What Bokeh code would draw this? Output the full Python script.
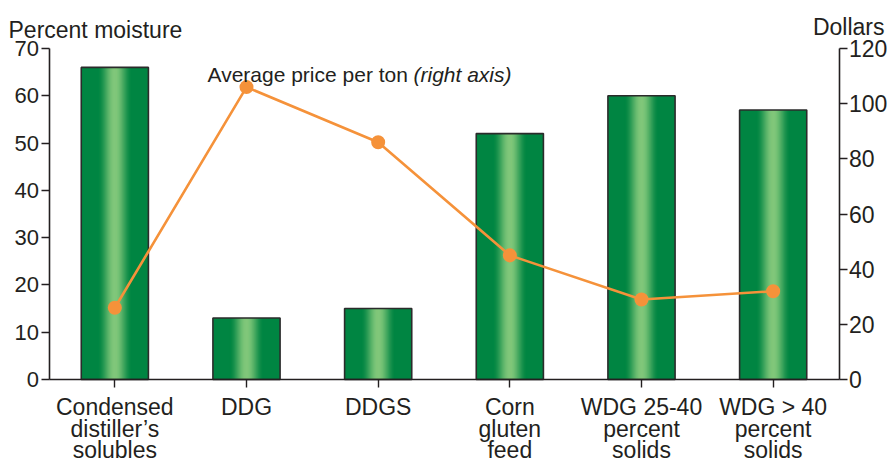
from bokeh.plotting import figure
from bokeh.core.properties import value
from bokeh.models import (Range1d, FactorRange, LinearAxis, FixedTicker, Label,
                          LabelSet, ColumnDataSource)
from bokeh.embed import file_html
from bokeh.resources import INLINE

# ---- data ----
categories = ["Condensed\ndistiller\u2019s\nsolubles", "DDG", "DDGS",
              "Corn\ngluten\nfeed", "WDG 25-40\npercent\nsolids",
              "WDG > 40\npercent\nsolids"]
moisture = [66, 13, 15, 52, 60, 57]        # percent moisture (left axis)
price = [26, 106, 86, 45, 29, 32]          # dollars per ton (right axis)
moisture_ticks = [0, 10, 20, 30, 40, 50, 60, 70]
price_ticks = [0, 20, 40, 60, 80, 100, 120]

# ---- layout (pixels) ----
W, H = 887, 463
X_LEFT, X_RIGHT = 47, 837      # plotting area left/right edges
Y_TOP, Y_ZERO = 48, 379        # plotting area top/bottom edges
N_CAT = len(categories)
UNIT = (X_RIGHT - X_LEFT) / N_CAT
PAD = (W / UNIT - N_CAT) / 2
M_MAX, P_MAX = 70, 120
m_px = (Y_ZERO - Y_TOP) / M_MAX
p_px = (Y_ZERO - Y_TOP) / P_MAX
LABEL_BASELINES = [414, 436, 457]


def px2x(px):
    return N_CAT / 2 + (px - W / 2) / UNIT


def py2y(py):
    return (Y_ZERO - py) / m_px


# ---- styles ----
FONT = "Liberation Sans"
DARK = "#231F20"
ORANGE = "#F5923A"
GREEN_DARK = (0, 133, 66)
GREEN_LIGHT = (128, 199, 122)
BAR_W = 0.51

src = ColumnDataSource(dict(cat=categories, moisture=moisture, price=price))

p = figure(width=W, height=H,
           x_range=FactorRange(factors=categories, range_padding=PAD,
                               range_padding_units="absolute"),
           y_range=Range1d(-(H - Y_ZERO) / m_px, M_MAX + Y_TOP / m_px),
           output_backend="svg", toolbar_location=None,
           min_border_left=0, min_border_right=0,
           min_border_top=0, min_border_bottom=0)
p.extra_y_ranges = {"price": Range1d(-(H - Y_ZERO) / p_px, P_MAX + Y_TOP / p_px)}
p.title.visible = False
p.outline_line_color = None
p.xgrid.visible = False
p.ygrid.visible = False
p.background_fill_color = "white"
p.border_fill_color = "white"


def style_axis(ax, size="22px"):
    ax.axis_line_color = DARK
    ax.axis_line_width = 1.6
    ax.major_tick_line_color = DARK
    ax.major_tick_line_width = 1.4
    ax.major_tick_in = 0
    ax.major_tick_out = 8
    ax.minor_tick_line_color = None
    ax.major_label_text_font = FONT
    ax.major_label_text_font_size = size
    ax.major_label_text_color = DARK


# left axis
yax = p.yaxis[0]
yax.ticker = FixedTicker(ticks=moisture_ticks)
yax.fixed_location = 0
yax.bounds = (0, M_MAX)
style_axis(yax)
yax.major_label_standoff = 2

# right axis
rax = LinearAxis(y_range_name="price", ticker=FixedTicker(ticks=price_ticks),
                 fixed_location=N_CAT, bounds=(0, P_MAX))
style_axis(rax, "23px")
rax.major_label_standoff = 2
p.add_layout(rax, "right")

# bottom axis (category names drawn line by line below)
xax = p.xaxis[0]
xax.fixed_location = 0
xax.bounds = (0, N_CAT)
style_axis(xax)
xax.major_label_text_font_size = "0px"
xax.major_label_text_color = None

# ---- bars with vertical gradient stripes ----
p.vbar(x="cat", top="moisture", width=BAR_W, source=src,
       fill_color="#%02x%02x%02x" % GREEN_DARK, line_color=None)
N = 16
RAMP = 0.5
for i in range(N):
    t = (i + 1) / N
    s = t * t * (3 - 2 * t)
    col = tuple(int(round(a + (b - a) * s)) for a, b in zip(GREEN_DARK, GREEN_LIGHT))
    w = BAR_W * RAMP * (1 - i / N)
    p.vbar(x="cat", top="moisture", width=w, source=src,
           fill_color="#%02x%02x%02x" % col, line_color=None)
p.vbar(x="cat", top="moisture", width=BAR_W, source=src,
       fill_color=None, line_color="#2B2B2B", line_width=1.6)

# ---- price line ----
p.line(x="cat", y="price", y_range_name="price", source=src,
       line_color=ORANGE, line_width=2.6)
p.scatter(x="cat", y="price", y_range_name="price", source=src,
          size=14, fill_color=ORANGE, line_color=None)

# ---- category labels, one row per text line ----
split = [c.split("\n") for c in categories]
for k, base in enumerate(LABEL_BASELINES):
    row = [parts[k] if k < len(parts) else "" for parts in split]
    lsrc = ColumnDataSource(dict(cat=categories, txt=row))
    p.add_layout(LabelSet(x="cat", y=py2y(base), text="txt", source=lsrc,
                          text_align="center", text_baseline="alphabetic",
                          text_font=value(FONT), text_font_size="23px",
                          text_color=DARK))

# ---- texts ----
p.add_layout(Label(x=px2x(8), y=py2y(29), text="Percent moisture",
                   text_align="left", text_baseline="alphabetic",
                   text_font=FONT, text_font_size="23px", text_color=DARK))
p.add_layout(Label(x=px2x(884), y=py2y(26), text="Dollars",
                   text_align="right", text_baseline="alphabetic",
                   text_font=FONT, text_font_size="23px", text_color=DARK))
p.add_layout(Label(x=px2x(207), y=py2y(74), text="Average price per ton",
                   text_align="left", text_baseline="alphabetic",
                   text_font=FONT, text_font_size="21px", text_color=DARK))
p.add_layout(Label(x=px2x(413), y=py2y(74), text="(right axis)",
                   text_align="left", text_baseline="alphabetic",
                   text_font=FONT, text_font_size="21px",
                   text_font_style="italic", text_color=DARK))

open("out.html", "w").write(file_html(p, INLINE))
